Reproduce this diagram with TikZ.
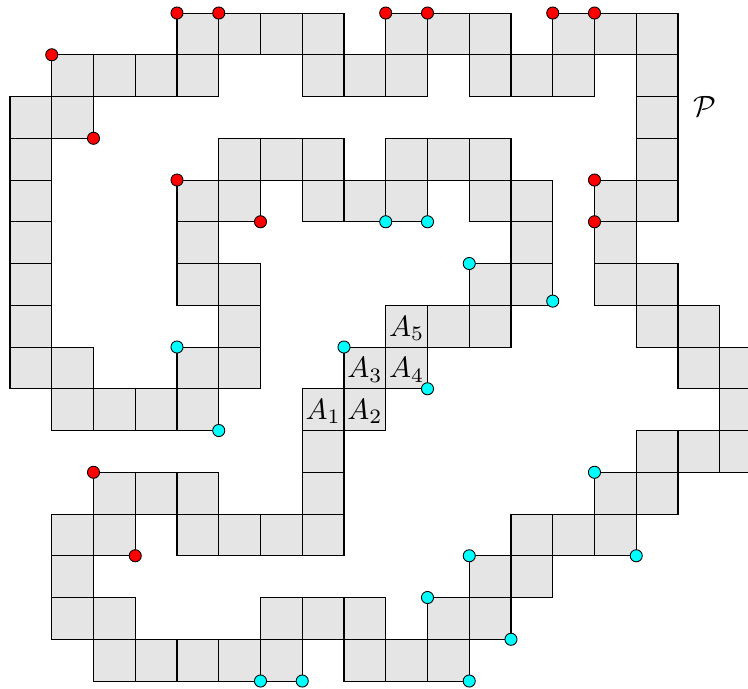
\documentclass[tikz,border=0pt]{standalone}
\definecolor{dotcyan}{RGB}{0,255,255}
\definecolor{dotred}{RGB}{255,0,0}
\definecolor{cellgray}{RGB}{229,229,229}
\begin{document}
\begin{tikzpicture}[x=1cm,y=1cm,
  cellbox/.style={fill=cellgray,draw=black,line width=0.7pt},
  reddot/.style={circle,inner sep=0pt,minimum size=0.29cm,fill=dotred,draw=black,line width=0.6pt},
  cyandot/.style={circle,inner sep=0pt,minimum size=0.29cm,fill=dotcyan,draw=black,line width=0.6pt},
  lab/.style={inner sep=0pt,scale=2,transform shape}]
\useasboundingbox (-0.2395,0.312) rectangle (17.677,-16.187);
% cells: row / list of columns
\foreach \r/\cols in {
  0/{4,5,6,7,9,10,11,13,14,15},
  1/{1,2,3,4,7,8,9,11,12,13,15},
  2/{0,1,15},
  3/{0,5,6,7,9,10,11,15},
  4/{0,4,5,7,8,9,11,12,14,15},
  5/{0,4,12,14},
  6/{0,4,5,11,12,14,15},
  7/{0,5,9,10,11,15,16},
  8/{0,1,4,5,8,9,16,17},
  9/{1,2,3,4,7,8,17},
  10/{7,15,16,17},
  11/{2,3,4,7,14,15},
  12/{1,2,4,5,6,7,12,13,14},
  13/{1,11,12},
  14/{1,2,6,7,8,10,11},
  15/{2,3,4,5,6,8,9,10}}{
  \foreach \c in \cols {
    \draw[cellbox] (\c,-\r) rectangle ++(1,-1);
  }
}
% labels
\node[lab] (a1) at (7.5,-9.55) {$A_1$};
\node[lab] (a2) at (8.5,-9.55) {$A_2$};
\node[lab] (a3) at (8.5,-8.55) {$A_3$};
\node[lab] (a4) at (9.5,-8.55) {$A_4$};
\node[lab] (a5) at (9.5,-7.55) {$A_5$};
\node[lab] (P) at (16.65,-2.25) {$\mathcal{P}$};
% red dots
\node[reddot] (r1) at (4,0) {};
\node[reddot] (r2) at (5,0) {};
\node[reddot] (r3) at (9,0) {};
\node[reddot] (r4) at (10,0) {};
\node[reddot] (r5) at (13,0) {};
\node[reddot] (r6) at (14,0) {};
\node[reddot] (r7) at (1,-1) {};
\node[reddot] (r8) at (2,-3) {};
\node[reddot] (r9) at (4,-4) {};
\node[reddot] (r10) at (6,-5) {};
\node[reddot] (r11) at (14,-4) {};
\node[reddot] (r12) at (14,-5) {};
\node[reddot] (r13) at (2,-11) {};
\node[reddot] (r14) at (3,-13) {};
% cyan dots
\node[cyandot] (c1) at (9,-5) {};
\node[cyandot] (c2) at (10,-5) {};
\node[cyandot] (c3) at (11,-6) {};
\node[cyandot] (c4) at (13,-6.9) {};
\node[cyandot] (c5) at (4,-8) {};
\node[cyandot] (c6) at (5,-10) {};
\node[cyandot] (c7) at (8,-8) {};
\node[cyandot] (c8) at (10,-9) {};
\node[cyandot] (c9) at (14,-11) {};
\node[cyandot] (c10) at (15,-13) {};
\node[cyandot] (c11) at (11,-13) {};
\node[cyandot] (c12) at (10,-14) {};
\node[cyandot] (c13) at (12,-15) {};
\node[cyandot] (c14) at (11,-16) {};
\node[cyandot] (c15) at (6,-16) {};
\node[cyandot] (c16) at (7,-16) {};
\end{tikzpicture}
\end{document}
